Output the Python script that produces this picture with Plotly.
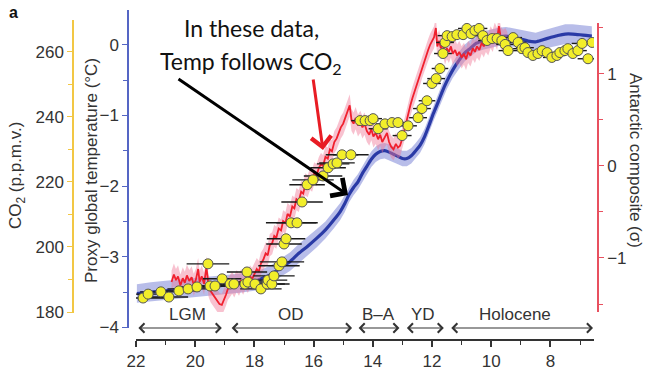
import plotly.graph_objects as go

W, H = 647, 371

# ---------------- data ----------------
# Proxy global temperature (blue), age in kyr BP
temp_age = [21.97, 21.5, 21.0, 20.5, 20.0, 19.5, 19.0, 18.5, 18.0, 17.7, 17.4, 17.1, 16.8, 16.5,
            16.2, 15.9, 15.6, 15.3, 15.1, 14.95, 14.8, 14.65, 14.5, 14.35, 14.2, 14.05, 13.9,
            13.75, 13.6, 13.45, 13.3, 13.15, 13.0, 12.85, 12.7, 12.55, 12.4, 12.25, 12.1, 11.95,
            11.8, 11.65, 11.5, 11.3, 11.1, 10.9, 10.7, 10.5, 10.25, 10.0, 9.75, 9.5, 9.25, 9.0,
            8.75, 8.5, 8.25, 8.0, 7.75, 7.5, 7.25, 7.0, 6.8, 6.6]
temp_val = [-3.52, -3.50, -3.48, -3.46, -3.44, -3.42, -3.40, -3.38, -3.35, -3.30, -3.24, -3.15,
            -3.07, -2.95, -2.85, -2.74, -2.62, -2.47, -2.36, -2.25, -2.12, -2.02, -1.94, -1.82,
            -1.72, -1.62, -1.55, -1.51, -1.50, -1.52, -1.55, -1.58, -1.61, -1.61, -1.57, -1.50,
            -1.42, -1.30, -1.14, -0.97, -0.82, -0.66, -0.52, -0.36, -0.23, -0.12, -0.05, 0.02,
            0.06, 0.09, 0.11, 0.12, 0.10, 0.08, 0.05, 0.04, 0.07, 0.10, 0.13, 0.15, 0.15, 0.14,
            0.13, 0.12]
temp_unc = [0.13, 0.14, 0.14, 0.14, 0.13, 0.13, 0.13, 0.13, 0.13, 0.13, 0.13, 0.13, 0.13, 0.13,
            0.13, 0.13, 0.12, 0.12, 0.12, 0.12, 0.11, 0.11, 0.11, 0.11, 0.11, 0.11, 0.11,
            0.11, 0.11, 0.11, 0.11, 0.11, 0.11, 0.11, 0.11, 0.11, 0.11, 0.11, 0.11, 0.11,
            0.11, 0.11, 0.11, 0.11, 0.12, 0.12, 0.12, 0.12, 0.13, 0.13, 0.13, 0.13, 0.13, 0.13,
            0.13, 0.13, 0.13, 0.13, 0.14, 0.14, 0.14, 0.14, 0.14, 0.14]

# Antarctic composite (red), sigma units
ant_age = [20.80, 20.72, 20.65, 20.58, 20.50, 20.42, 20.35, 20.28, 20.20, 20.12, 20.05, 19.98,
           19.90, 19.85, 19.78, 19.70, 19.62, 19.55, 19.48, 19.40, 19.32, 19.25, 19.18, 19.10,
           19.03, 18.96, 18.90, 18.82, 18.75, 18.68, 18.60, 18.52, 18.45, 18.38, 18.30, 18.22,
           18.15, 18.08, 18.00, 17.92, 17.85, 17.78, 17.70, 17.62, 17.55, 17.48, 17.40, 17.33,
           17.26, 17.18, 17.10, 17.03, 16.95, 16.88, 16.80, 16.72, 16.65, 16.58, 16.50, 16.42,
           16.35, 16.28, 16.20, 16.12, 16.05, 15.98, 15.90, 15.82, 15.75, 15.68, 15.60, 15.52,
           15.45, 15.38, 15.30, 15.22, 15.15, 15.08, 15.00, 14.92, 14.85, 14.78, 14.72, 14.65,
           14.58, 14.50, 14.42, 14.35, 14.28, 14.20, 14.12, 14.05, 13.98, 13.90, 13.82, 13.75,
           13.68, 13.60, 13.52, 13.45, 13.38, 13.30, 13.22, 13.15, 13.08, 13.00, 12.93, 12.86,
           12.80, 12.73, 12.66, 12.60, 12.53, 12.46, 12.40, 12.33, 12.26, 12.20, 12.13, 12.06,
           12.00, 11.93, 11.87, 11.82, 11.76, 11.70, 11.63, 11.56, 11.50, 11.43, 11.36, 11.30,
           11.22, 11.15, 11.08, 11.00, 10.92, 10.85, 10.78, 10.70, 10.62, 10.55, 10.48, 10.40,
           10.32, 10.25, 10.18, 10.10, 10.02, 9.95, 9.88, 9.80, 9.74, 9.68, 9.60, 9.52, 9.45]
ant_val = [-1.26, -1.18, -1.24, -1.20, -1.30, -1.22, -1.27, -1.19, -1.25, -1.21, -1.29, -1.24,
           -1.12, -1.26, -1.20, -1.28, -1.10, -1.30, -1.36, -1.40, -1.44, -1.47, -1.50, -1.51,
           -1.46, -1.40, -1.34, -1.30, -1.27, -1.31, -1.25, -1.29, -1.24, -1.28, -1.22, -1.26,
           -1.20, -1.23, -1.17, -1.12, -1.15, -1.06, -1.02, -0.95, -0.97, -0.86, -0.84, -0.76,
           -0.78, -0.68, -0.70, -0.60, -0.62, -0.52, -0.55, -0.44, -0.46, -0.36, -0.38, -0.28,
           -0.30, -0.20, -0.22, -0.14, -0.16, -0.08, -0.10, -0.02, 0.02, 0.00, 0.10, 0.08,
           0.18, 0.16, 0.26, 0.30, 0.36, 0.42, 0.46, 0.53, 0.58, 0.66, 0.50, 0.46,
           0.52, 0.44, 0.48, 0.42, 0.46, 0.38, 0.34, 0.40, 0.32, 0.36, 0.29, 0.34,
           0.26, 0.32, 0.36, 0.26, 0.21, 0.18, 0.24, 0.20, 0.22, 0.30, 0.40, 0.50,
           0.58, 0.66, 0.74, 0.80, 0.86, 0.95, 1.00, 1.08, 1.14, 1.20, 1.26, 1.32,
           1.36, 1.40, 1.50, 1.30, 1.36, 1.28, 1.32, 1.22, 1.28, 1.24, 1.30, 1.22,
           1.26, 1.20, 1.24, 1.18, 1.22, 1.16, 1.24, 1.20, 1.28, 1.24, 1.30, 1.26,
           1.34, 1.30, 1.36, 1.32, 1.40, 1.36, 1.44, 1.38, 1.52, 1.40, 1.36, 1.38, 1.33]

# CO2 (yellow points) with age uncertainty (kyr)
co2_age = [21.76, 21.59, 21.16, 20.89, 20.55, 20.24, 19.94, 19.57, 19.50, 19.33, 19.09, 18.82,
           18.69, 18.32, 18.25, 18.22, 17.98, 17.78, 17.57, 17.54, 17.41, 17.34, 17.17, 17.07,
           17.00, 16.93, 16.76, 16.56, 16.39, 16.22, 16.02, 15.68, 15.51, 15.34, 15.21, 15.04,
           14.74, 14.43, 14.26, 14.09, 13.99, 13.82, 13.59, 13.35, 13.15, 13.01, 12.81, 12.47,
           12.34, 12.17, 12.00, 11.86, 11.73, 11.63, 11.56, 11.49, 11.32, 11.16, 10.95, 10.82,
           10.68, 10.55, 10.41, 10.28, 10.14, 9.97, 9.80, 9.64, 9.53, 9.43, 9.26, 9.09,
           8.96, 8.86, 8.76, 8.59, 8.42, 8.28, 8.11, 7.95, 7.78, 7.68, 7.51, 7.41,
           7.24, 7.07, 6.93, 6.73, 6.59]
co2_ppm = [184.3, 185.5, 186.2, 184.6, 186.5, 187.1, 187.7, 194.8, 188.0, 188.0, 190.2, 188.6,
           188.6, 188.6, 192.3, 189.2, 188.6, 187.1, 188.6, 189.8, 188.6, 191.1, 194.2, 195.4,
           200.9, 202.5, 207.4, 207.4, 213.8, 219.1, 220.6, 221.8, 224.3, 225.5, 225.8, 228.3,
           228.3, 238.8, 238.8, 238.8, 239.4, 236.3, 237.8, 238.2, 238.2, 234.2, 237.2, 239.7,
           242.5, 244.9, 250.2, 251.7, 254.8, 259.4, 262.8, 264.9, 264.6, 265.2, 265.2, 267.1,
           265.5, 266.5, 267.1, 264.9, 263.4, 264.0, 264.0, 263.4, 262.2, 260.3, 264.3, 262.8,
           260.9, 261.2, 259.7, 258.8, 259.4, 260.3, 259.7, 258.2, 258.8, 259.7, 260.3, 260.9,
           259.4, 260.3, 262.5, 257.8, 262.8]
co2_err = [0.75, 0.70, 0.70, 0.65, 0.70, 0.70, 0.65, 0.72, 0.60, 0.60, 0.65, 0.70,
           0.60, 0.65, 0.68, 0.60, 0.65, 0.70, 0.60, 0.65, 0.60, 0.70, 0.70, 0.75,
           0.60, 0.65, 0.85, 0.70, 0.70, 0.60, 0.70, 0.65, 0.60, 0.55, 0.60, 0.55,
           0.60, 0.30, 0.30, 0.28, 0.30, 0.32, 0.30, 0.28, 0.30, 0.32, 0.30, 0.30,
           0.30, 0.28, 0.30, 0.30, 0.28, 0.30, 0.30, 0.32, 0.30, 0.28, 0.30, 0.30,
           0.32, 0.30, 0.28, 0.30, 0.30, 0.30, 0.28, 0.30, 0.30, 0.32, 0.30, 0.28,
           0.30, 0.30, 0.30, 0.28, 0.30, 0.30, 0.32, 0.30, 0.28, 0.30, 0.30, 0.30,
           0.28, 0.30, 0.35, 0.35, 0.40]

periods = ["LGM", "OD", "B\u2013A", "YD", "Holocene"]
period_start = [21.97, 18.82, 14.53, 12.90, 11.40]
period_end = [19.10, 14.70, 13.10, 11.60, 6.56]
period_label_x = [20.25, 16.75, 13.80, 12.30, 9.20]

# ---------------- figure ----------------
FONT = "Liberation Sans, Arial, Helvetica, sans-serif"
TXT = "#333333"
BLUE_AX = "#5566c4"
RED_AX = "#e8505f"
GOLD_AX = "#f2c744"

def px_x(p):
    return p / W

def px_y(p):
    return 1 - p / H

fig = go.Figure()

# blue band + line (temperature)
t_up = [v + u for v, u in zip(temp_val, temp_unc)]
t_lo = [v - u for v, u in zip(temp_val, temp_unc)]
fig.add_trace(go.Scatter(x=temp_age + temp_age[::-1], y=t_up + t_lo[::-1], fill="toself",
                         fillcolor="rgba(125,135,215,0.55)", line=dict(width=0),
                         xaxis="x", yaxis="y", hoverinfo="skip", showlegend=False))
fig.add_trace(go.Scatter(x=temp_age, y=temp_val, mode="lines",
                         line=dict(color="#2a3aa6", width=3.2, shape="spline", smoothing=0.5),
                         xaxis="x", yaxis="y", showlegend=False))

# red band + line (Antarctic composite)
a_up = [v + 0.12 for v in ant_val]
a_lo = [v - 0.12 for v in ant_val]
fig.add_trace(go.Scatter(x=ant_age + ant_age[::-1], y=a_up + a_lo[::-1], fill="toself",
                         fillcolor="rgba(240,120,150,0.45)", line=dict(width=0),
                         xaxis="x", yaxis="y2", hoverinfo="skip", showlegend=False))
fig.add_trace(go.Scatter(x=ant_age, y=ant_val, mode="lines",
                         line=dict(color="#f0202e", width=1.8),
                         xaxis="x", yaxis="y2", showlegend=False))

# CO2 points
fig.add_trace(go.Scatter(x=co2_age, y=co2_ppm, mode="markers",
                         marker=dict(size=10, color="#f2ee2a", line=dict(color="#555555", width=1)),
                         error_x=dict(type="data", array=co2_err, color="#1a1a1a", thickness=1.4, width=0),
                         xaxis="x", yaxis="y3", showlegend=False))

ann = []
# period arrows + labels
for name, s, e, lx in zip(periods, period_start, period_end, period_label_x):
    ann.append(dict(x=e, y=px_y(328), xref="x", yref="paper", ax=s, ay=0, axref="x", ayref="pixel",
                    text="", showarrow=True, arrowhead=4, startarrowhead=4, arrowside="end+start",
                    arrowsize=1.5, startarrowsize=1.5, arrowwidth=1.2, arrowcolor=TXT,
                    standoff=0, startstandoff=0))
    ann.append(dict(x=lx, y=px_y(314), xref="x", yref="paper", text=name, showarrow=False,
                    font=dict(family=FONT, size=17, color=TXT), xanchor="center", yanchor="middle"))

# axis titles
ann.append(dict(x=px_x(17), y=px_y(176), xref="paper", yref="paper", text="CO<sub>2</sub> (p.p.m.v.)",
                textangle=-90, showarrow=False, font=dict(family=FONT, size=17, color=TXT),
                xanchor="center", yanchor="middle"))
ann.append(dict(x=px_x(91), y=px_y(170), xref="paper", yref="paper", text="Proxy global temperature (\u00b0C)",
                textangle=-90, showarrow=False, font=dict(family=FONT, size=17, color=TXT),
                xanchor="center", yanchor="middle"))
ann.append(dict(x=px_x(636), y=px_y(160), xref="paper", yref="paper", text="Antarctic composite (\u03c3)",
                textangle=90, showarrow=False, font=dict(family=FONT, size=17, color=TXT),
                xanchor="center", yanchor="middle"))
ann.append(dict(x=px_x(13), y=px_y(12), xref="paper", yref="paper", text="<b>a</b>",
                showarrow=False, font=dict(family=FONT, size=16, color="#111"),
                xanchor="center", yanchor="middle"))

# overlay text + arrows
ann.append(dict(x=px_x(251), y=px_y(28), xref="paper", yref="paper", text="In these data,",
                showarrow=False, font=dict(family="Lato, Open Sans, sans-serif", size=23, color="#111"),
                xanchor="center", yanchor="middle"))
ann.append(dict(x=px_x(251), y=px_y(62), xref="paper", yref="paper", text="Temp follows CO<sub>2</sub>",
                showarrow=False, font=dict(family="Lato, Open Sans, sans-serif", size=23, color="#111"),
                xanchor="center", yanchor="middle"))
ann.append(dict(x=px_x(348), y=px_y(195), xref="paper", yref="paper", ax=177 - 348, ay=78 - 195,
                axref="pixel", ayref="pixel", text="", showarrow=True, arrowhead=4, arrowsize=1.4,
                arrowwidth=3, arrowcolor="#000000", standoff=0))
ann.append(dict(x=px_x(323), y=px_y(150), xref="paper", yref="paper", ax=313 - 323, ay=78 - 150,
                axref="pixel", ayref="pixel", text="", showarrow=True, arrowhead=4, arrowsize=1.3,
                arrowwidth=3, arrowcolor="#e81c24", standoff=0))

tickfont = dict(family=FONT, size=17, color=TXT)

fig.update_layout(
    width=W, height=H, autosize=False,
    margin=dict(l=0, r=0, t=0, b=0, pad=0),
    paper_bgcolor="white", plot_bgcolor="rgba(0,0,0,0)",
    showlegend=False,
    annotations=ann,
    xaxis=dict(domain=[px_x(136), px_x(594)], range=[22, 6.527], anchor="free", position=px_y(340),
               showline=True, linecolor=TXT, linewidth=1.5, ticks="outside", ticklen=6, tickwidth=1.5,
               tickcolor=TXT, tick0=0, dtick=2, showgrid=False, zeroline=False, tickfont=tickfont,
               minor=dict(dtick=1, tick0=0, ticks="outside", ticklen=4, tickwidth=1.2, tickcolor=TXT,
                          showgrid=False),
               automargin=False),
    yaxis=dict(domain=[px_y(328), px_y(10)], range=[-4.007, 0.49], anchor="free", position=px_x(128),
               side="left", showline=True, linecolor=BLUE_AX, linewidth=1.5, ticks="outside", ticklen=5,
               tickwidth=1.3, tickcolor=BLUE_AX, tick0=0, dtick=1, showgrid=False, zeroline=False,
               tickfont=tickfont,
               minor=dict(dtick=0.5, tick0=0, ticks="outside", ticklen=4, tickwidth=1.2, tickcolor=BLUE_AX,
                          showgrid=False),
               automargin=False),
    yaxis2=dict(domain=[px_y(312), px_y(23)], range=[-1.587, 1.554], anchor="free", position=px_x(598),
                side="right", showline=True, linecolor=RED_AX, linewidth=1.5, ticks="outside", ticklen=5,
                tickwidth=1.3, tickcolor=RED_AX, tick0=0, dtick=1, showgrid=False, zeroline=False,
                tickfont=tickfont,
                minor=dict(dtick=0.5, tick0=0, ticks="outside", ticklen=4, tickwidth=1.2, tickcolor=RED_AX,
                           showgrid=False),
                automargin=False),
    yaxis3=dict(domain=[px_y(313), px_y(20)], range=[179.7, 269.7], anchor="free", position=px_x(73),
                side="left", showline=True, linecolor=GOLD_AX, linewidth=1.5, ticks="outside", ticklen=5,
                tickwidth=1.3, tickcolor=GOLD_AX, tick0=0, dtick=20, showgrid=False, zeroline=False,
                tickfont=tickfont,
                minor=dict(dtick=10, tick0=0, ticks="outside", ticklen=4, tickwidth=1.2, tickcolor=GOLD_AX,
                           showgrid=False),
                automargin=False),
)

fig.write_html("out.html")
